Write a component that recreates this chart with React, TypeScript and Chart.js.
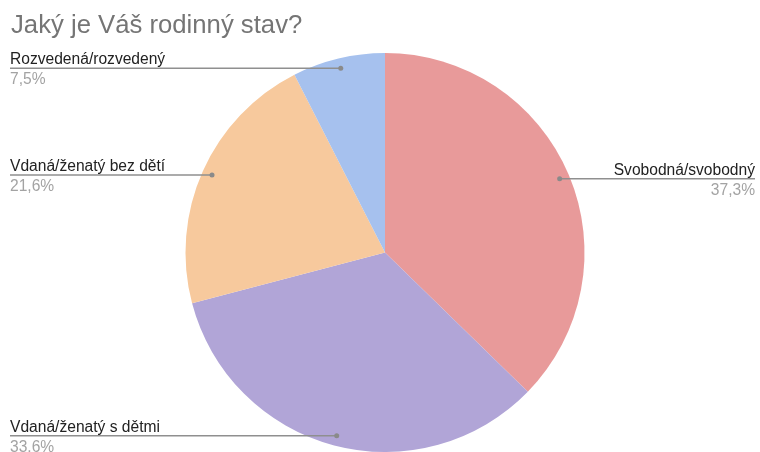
import React, { useEffect, useRef } from "react";
import { Chart, registerables } from "chart.js";

Chart.register(...registerables);

const titleText = "Jaký je Váš rodinný stav?";
const categories = [
  "Svobodná/svobodný",
  "Vdaná/ženatý s dětmi",
  "Vdaná/ženatý bez dětí",
  "Rozvedená/rozvedený",
];
const values = [37.3, 33.6, 21.6, 7.5];
const percentLabels = ["37,3%", "33.6%", "21,6%", "7,5%"];
const colors = ["#E89A9A", "#B1A5D7", "#F7C99D", "#A6C1EE"];

const FONT = "'Liberation Sans', Arial, sans-serif";

const labelPlugin = {
  id: "leaderLabels",
  afterDraw(chart: any) {
    const ctx = chart.ctx;
    const W = chart.width;
    ctx.save();
    ctx.font = `25.7px ${FONT}`;
    ctx.fillStyle = "#757575";
    ctx.textAlign = "left";
    ctx.textBaseline = "alphabetic";
    ctx.fillText(titleText, 11, 33);

    const meta = chart.getDatasetMeta(0);
    meta.data.forEach((arc: any, i: number) => {
      const p = arc.getProps(["x", "y", "startAngle", "endAngle", "outerRadius"], true);
      const mid = (p.startAngle + p.endAngle) / 2;
      const r = p.outerRadius * 0.95;
      const dx = p.x + Math.cos(mid) * r;
      const dy = p.y + Math.sin(mid) * r;
      const right = Math.cos(mid) > 0;
      const endX = right ? W - 5 : 10;
      ctx.strokeStyle = "#8f8f8f";
      ctx.lineWidth = 1.5;
      ctx.beginPath();
      ctx.moveTo(endX, dy);
      ctx.lineTo(dx, dy);
      ctx.stroke();
      ctx.fillStyle = "#8a8a8a";
      ctx.beginPath();
      ctx.arc(dx, dy, 2.5, 0, Math.PI * 2);
      ctx.fill();
      ctx.textAlign = right ? "right" : "left";
      ctx.font = `15.6px ${FONT}`;
      ctx.fillStyle = "#222222";
      ctx.fillText(categories[i], endX, dy - 4);
      ctx.fillStyle = "#a3a3a3";
      ctx.fillText(percentLabels[i], endX, dy + 16);
    });
    ctx.restore();
  },
};

export default function App() {
  const ref = useRef<HTMLCanvasElement>(null);
  useEffect(() => {
    if (!ref.current) return;
    const chart = new Chart(ref.current, {
      type: "pie",
      data: {
        labels: categories,
        datasets: [
          {
            data: values,
            backgroundColor: colors,
            borderWidth: 0,
          },
        ],
      },
      options: {
        animation: false,
        responsive: false,
        layout: { padding: { top: 53, bottom: 0, left: 185, right: 175 } },
        plugins: {
          legend: { display: false },
          tooltip: { enabled: false },
          title: { display: false },
        },
      },
      plugins: [labelPlugin],
    });
    return () => chart.destroy();
  }, []);
  return (
    <div style={{ position: "fixed", left: 0, top: 0, width: 760, height: 452, background: "#fff" }}>
      <canvas ref={ref} width={760} height={452} style={{ width: 760, height: 452 }} />
    </div>
  );
}
